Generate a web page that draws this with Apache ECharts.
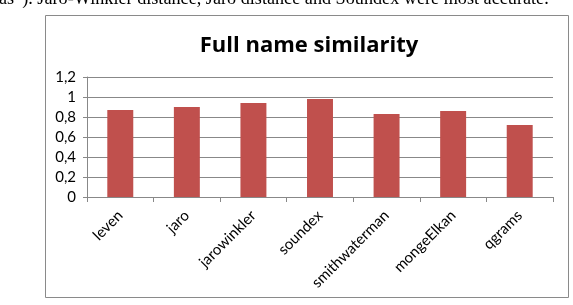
<!DOCTYPE html>
<html>
<head>
<meta charset="utf-8">
<script src="https://cdn.jsdelivr.net/npm/echarts@6/dist/echarts.min.js"></script>
<style>
  html, body { margin: 0; padding: 0; background: #fff; }
  #main { width: 573px; height: 305px; }
</style>
</head>
<body>
<div id="main"></div>
<script>
// data
var categories = ['leven', 'jaro', 'jarowinkler', 'soundex', 'smithwaterman', 'mongeElkan', 'qgrams'];
var similarity = [0.87, 0.90, 0.94, 0.98, 0.83, 0.86, 0.72];
var yTicks = [0, 0.2, 0.4, 0.6, 0.8, 1, 1.2];

var chart = echarts.init(document.getElementById('main'));

var option = {
  animation: false,
  backgroundColor: '#fff',
  title: {
    text: 'Full name similarity',
    left: 304,
    textAlign: 'center',
    top: 30,
    textStyle: { fontFamily: 'Open Sans', fontWeight: 'bold', fontSize: 22, color: '#000' }
  },
  graphic: [
    // caption line of the page, cut at the top
    {
      type: 'text', left: -1, top: -10,
      style: {
        text: 'as\u201D). Jaro-Winkler distance, Jaro distance and Soundex were most accurate.',
        font: '18.2px "Liberation Serif"', fill: '#000'
      }
    },
    // chart frame
    {
      type: 'rect', shape: { x: 45.5, y: 15.5, width: 523, height: 282 },
      style: { fill: null, stroke: '#8a8a8a', lineWidth: 1 }, z: 0
    }
  ],
  grid: { left: 87, right: 20, top: 77, bottom: 108 },
  xAxis: {
    type: 'category',
    data: categories,
    axisLine: { lineStyle: { color: '#888' } },
    axisTick: { show: true, length: 5, lineStyle: { color: '#888' } },
    axisLabel: { rotate: 45, fontFamily: 'Lato', fontSize: 15, color: '#000', margin: 16 }
  },
  yAxis: {
    type: 'value',
    min: 0, max: 1.2, interval: 0.2,
    axisLine: { show: true, lineStyle: { color: '#888' } },
    axisTick: { show: true, length: 4, lineStyle: { color: '#888' } },
    splitLine: { lineStyle: { color: '#888' } },
    axisLabel: {
      fontFamily: 'Lato', fontSize: 15, color: '#000', margin: 11,
      formatter: function (v) {
        var t = yTicks.find(function (x) { return Math.abs(x - v) < 1e-6; });
        return String(t === undefined ? v : t).replace('.', ',');
      }
    }
  },
  series: [{
    type: 'bar',
    data: similarity,
    barWidth: '39%',
    itemStyle: { color: '#C0504D' }
  }]
};

chart.setOption(option);
</script>
</body>
</html>
